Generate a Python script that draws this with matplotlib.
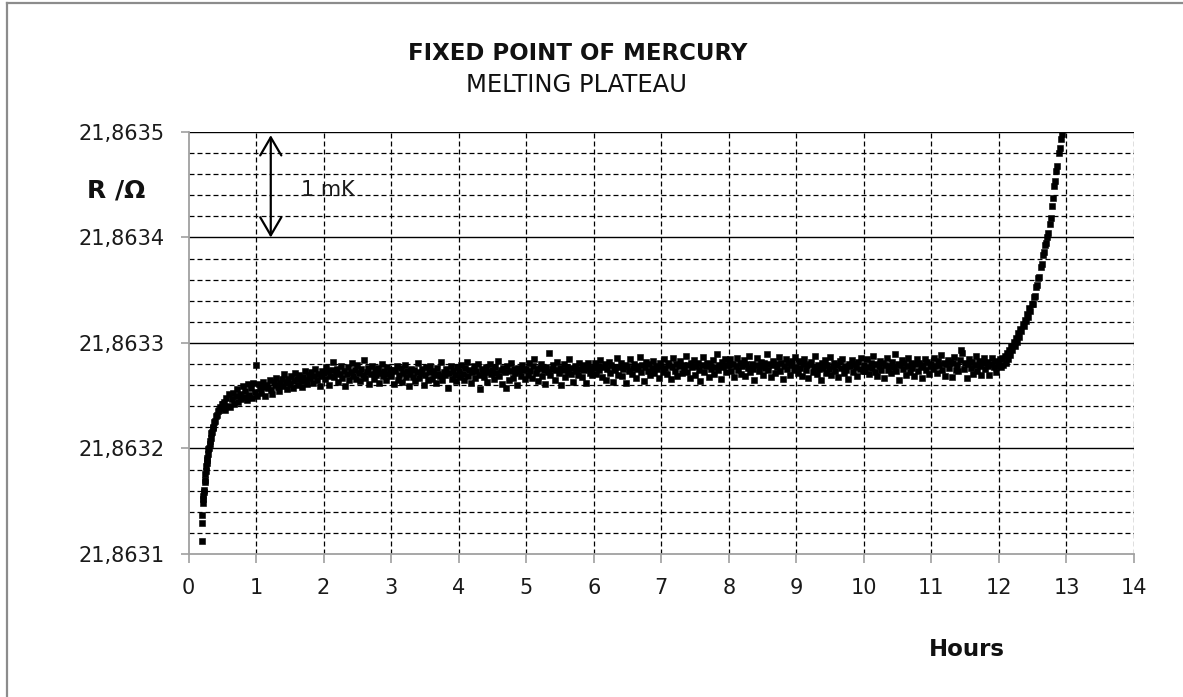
import numpy as np
import matplotlib
matplotlib.use("Agg")
import matplotlib.pyplot as plt
from matplotlib.lines import Line2D

plt.rcParams['font.family'] = ['DejaVu Sans']

# ---------------- data ----------------
# resistance readings stored as offsets above 21.8630 ohm, in units of 0.1 micro-ohm
R_BASE = 21.8630
UNIT = 1e-7

# initial steep rise (hours, readings)
hours_rise = [0.195, 0.200, 0.205, 0.210, 0.215, 0.220, 0.226, 0.232, 0.238, 0.244,
              0.250, 0.256, 0.262, 0.268, 0.274, 0.280, 0.288, 0.296, 0.304, 0.312,
              0.320, 0.330, 0.340, 0.350, 0.360, 0.370, 0.380, 0.392, 0.405, 0.418,
              0.432, 0.446, 0.460, 0.475, 0.490, 0.505]
dR_rise = [1126, 1291, 1370, 1480, 1520, 1548, 1590, 1604, 1680, 1702,
           1760, 1788, 1835, 1858, 1890, 1912, 1948, 1995, 2008, 2046,
           2072, 2098, 2145, 2158, 2196, 2205, 2248, 2262, 2309, 2322,
           2356, 2364, 2395, 2388, 2426, 2418]

# plateau: readings sampled uniformly in each time block
plateau_blocks = [(0.52, 1.0), (1, 2), (2, 3), (3, 4), (4, 5), (5, 6),
                  (6, 7), (7, 8), (8, 9), (9, 10), (10, 11), (11, 12)]
dR_plateau_00 = [2440, 2365, 2480, 2402, 2515, 2390, 2468, 2530, 2421, 2497, 2560, 2445,
                 2519, 2470, 2590, 2488, 2542, 2455, 2611, 2506, 2575, 2480, 2620, 2538]
dR_plateau_01 = [2790, 2498, 2611, 2575, 2530, 2628, 2587, 2493, 2604, 2571,
                 2646, 2559, 2520, 2633, 2598, 2671, 2585, 2548, 2617, 2662,
                 2596, 2704, 2629, 2567, 2655, 2612, 2689, 2573, 2641, 2718,
                 2662, 2604, 2695, 2637, 2581, 2676, 2732, 2649, 2610, 2701,
                 2668, 2727, 2625, 2690, 2752, 2647, 2709, 2595, 2683, 2736]
dR_plateau_02 = [2712, 2655, 2768, 2731, 2604, 2689, 2745, 2821, 2677, 2716,
                 2758, 2630, 2702, 2784, 2669, 2737, 2593, 2706, 2773, 2648,
                 2725, 2812, 2686, 2743, 2662, 2796, 2719, 2637, 2751, 2694,
                 2838, 2671, 2729, 2760, 2615, 2703, 2782, 2658, 2740, 2697,
                 2766, 2624, 2715, 2801, 2683, 2734, 2652, 2774, 2709, 2746]
dR_plateau_03 = [2688, 2741, 2612, 2735, 2779, 2654, 2701, 2762, 2627, 2718,
                 2795, 2673, 2730, 2589, 2706, 2757, 2681, 2744, 2636, 2722,
                 2808, 2667, 2713, 2750, 2601, 2694, 2771, 2645, 2727, 2786,
                 2659, 2739, 2698, 2617, 2761, 2710, 2684, 2823, 2649, 2728,
                 2692, 2754, 2575, 2719, 2780, 2663, 2736, 2701, 2642, 2768]
dR_plateau_04 = [2733, 2676, 2791, 2708, 2652, 2759, 2817, 2690, 2744, 2625,
                 2721, 2786, 2667, 2739, 2805, 2698, 2563, 2752, 2711, 2680,
                 2769, 2634, 2727, 2798, 2702, 2748, 2659, 2776, 2714, 2830,
                 2686, 2741, 2612, 2763, 2725, 2575, 2784, 2648, 2739, 2810,
                 2671, 2756, 2718, 2603, 2767, 2735, 2689, 2795, 2744, 2662]
dR_plateau_05 = [2758, 2701, 2812, 2735, 2667, 2779, 2846, 2720, 2753, 2641,
                 2766, 2803, 2689, 2748, 2614, 2771, 2729, 2905, 2692, 2757,
                 2788, 2653, 2740, 2819, 2712, 2764, 2598, 2745, 2797, 2681,
                 2769, 2728, 2851, 2706, 2759, 2630, 2782, 2737, 2695, 2812,
                 2750, 2673, 2791, 2744, 2623, 2767, 2806, 2716, 2760, 2698]
dR_plateau_06 = [2762, 2815, 2703, 2781, 2740, 2836, 2679, 2768, 2797, 2651,
                 2755, 2823, 2719, 2788, 2634, 2774, 2746, 2858, 2701, 2769,
                 2812, 2686, 2757, 2794, 2620, 2779, 2738, 2845, 2710, 2766,
                 2803, 2664, 2782, 2749, 2871, 2722, 2790, 2641, 2775, 2818,
                 2733, 2797, 2692, 2761, 2829, 2714, 2786, 2755, 2668, 2808]
dR_plateau_07 = [2783, 2721, 2846, 2767, 2702, 2812, 2790, 2655, 2774, 2859,
                 2738, 2801, 2685, 2779, 2833, 2712, 2796, 2752, 2880, 2729,
                 2788, 2664, 2807, 2771, 2842, 2697, 2784, 2815, 2741, 2638,
                 2793, 2865, 2723, 2780, 2810, 2676, 2799, 2754, 2837, 2708,
                 2775, 2896, 2742, 2789, 2660, 2818, 2769, 2851, 2726, 2795]
dR_plateau_08 = [2791, 2847, 2736, 2803, 2674, 2779, 2862, 2748, 2812, 2705,
                 2786, 2838, 2690, 2797, 2766, 2879, 2721, 2805, 2753, 2651,
                 2794, 2856, 2730, 2782, 2821, 2697, 2809, 2761, 2893, 2744,
                 2800, 2682, 2788, 2834, 2715, 2797, 2770, 2866, 2739, 2811,
                 2663, 2783, 2845, 2758, 2806, 2700, 2792, 2829, 2747, 2872]
dR_plateau_09 = [2776, 2713, 2831, 2759, 2689, 2804, 2852, 2740, 2787, 2665,
                 2798, 2822, 2728, 2771, 2880, 2706, 2789, 2750, 2645, 2813,
                 2767, 2841, 2719, 2793, 2756, 2868, 2697, 2782, 2810, 2733,
                 2794, 2677, 2826, 2761, 2849, 2715, 2785, 2742, 2656, 2803,
                 2778, 2835, 2724, 2797, 2768, 2690, 2817, 2752, 2861, 2736]
dR_plateau_10 = [2792, 2736, 2848, 2771, 2704, 2815, 2760, 2877, 2729, 2801,
                 2683, 2786, 2834, 2747, 2810, 2668, 2795, 2856, 2740, 2783,
                 2712, 2824, 2768, 2893, 2731, 2799, 2650, 2787, 2839, 2754,
                 2806, 2695, 2780, 2862, 2726, 2814, 2763, 2684, 2797, 2845,
                 2738, 2809, 2771, 2666, 2790, 2853, 2745, 2818, 2707, 2784]
dR_plateau_11 = [2801, 2752, 2858, 2779, 2716, 2826, 2793, 2887, 2741, 2808,
                 2690, 2797, 2843, 2762, 2819, 2675, 2806, 2869, 2748, 2791,
                 2730, 2835, 2935, 2902, 2753, 2812, 2671, 2799, 2847, 2764,
                 2818, 2709, 2792, 2874, 2737, 2826, 2781, 2700, 2809, 2856,
                 2751, 2820, 2786, 2695, 2804, 2861, 2769, 2832, 2728, 2815]
dR_plateau = [dR_plateau_00, dR_plateau_01, dR_plateau_02, dR_plateau_03,
              dR_plateau_04, dR_plateau_05, dR_plateau_06, dR_plateau_07,
              dR_plateau_08, dR_plateau_09, dR_plateau_10, dR_plateau_11]

# end of melt: readings sampled uniformly between these hours
end_block = (12.0, 12.933)
dR_end = [2780, 2845, 2770, 2862, 2795, 2880, 2815, 2905, 2850, 2935,
          2890, 2972, 2930, 3010, 2975, 3048, 3005, 3092, 3060, 3135,
          3110, 3180, 3160, 3222, 3205, 3275, 3250, 3330, 3302, 3370,
          3368, 3432, 3448, 3528, 3546, 3612, 3630, 3718, 3745, 3833,
          3858, 3930, 3945, 4002, 4040, 4132, 4188, 4296, 4370, 4492,
          4538, 4633, 4676, 4802, 4845, 4930, 4985]

x_ticks = list(range(0, 15))
y_major = [21.8631, 21.8632, 21.8633, 21.8634, 21.8635]
y_labels = ['21,8631', '21,8632', '21,8633', '21,8634', '21,8635']
y_minor_step = 0.00002

# ---------------- assemble ----------------
t_all = list(hours_rise)
r_all = [R_BASE + v * UNIT for v in dR_rise]
for (a, b), vals in zip(plateau_blocks, dR_plateau):
    t_all += list(np.linspace(a, b, len(vals), endpoint=False))
    r_all += [R_BASE + v * UNIT for v in vals]
t_all += list(np.linspace(end_block[0], end_block[1], len(dR_end)))
r_all += [R_BASE + v * UNIT for v in dR_end]

# ---------------- figure ----------------
W, H = 1183, 697
fig = plt.figure(figsize=(W / 100, H / 100), dpi=100)
fig.patch.set_facecolor('white')

def fx(px):
    return px / W

def fy(py):
    return 1 - py / H

ax = fig.add_axes([fx(188.5), fy(554), fx(1134) - fx(188.5), fy(132) - fy(554)])
ax.set_xlim(0, 14)
ax.set_ylim(y_major[0], y_major[-1])

grid_kw = dict(color='black', lw=0.9, zorder=1)
dash = (0, (4.0, 2.4))
# horizontal grid
n_minor = int(round((y_major[-1] - y_major[0]) / y_minor_step))
for i in range(n_minor + 1):
    yv = y_major[0] + i * y_minor_step
    if i % 5 == 0:
        if i == 0:
            continue
        ax.axhline(yv, color='black', lw=1.0, zorder=1)
    else:
        ax.axhline(yv, linestyle=dash, **grid_kw)
# vertical grid
for xv in x_ticks[1:]:
    ax.axvline(xv, linestyle=dash, **grid_kw)

ax.plot(t_all, r_all, linestyle='none', marker='s', ms=4.0, mew=0.4, mec='black',
        color='black', zorder=3, clip_on=True)

for s in ['top', 'right']:
    ax.spines[s].set_visible(False)
for s in ['left', 'bottom']:
    ax.spines[s].set_color('#a0a0a0')
    ax.spines[s].set_linewidth(1.3)
    ax.spines[s].set_zorder(2)

ax.set_xticks(x_ticks)
ax.set_xticklabels([str(v) for v in x_ticks])
ax.set_yticks(y_major)
ax.set_yticklabels(y_labels)
ax.tick_params(axis='x', direction='out', length=6.5, width=1.2, color='#a0a0a0',
               labelsize=15, pad=11, labelcolor='#1a1a1a')
ax.tick_params(axis='y', direction='out', length=6, width=1.2, color='#a0a0a0',
               labelsize=15, pad=11, labelcolor='#1a1a1a')

# arrow 1 mK
ax.annotate('', xy=(1.218, 21.86340), xytext=(1.218, 21.863497),
            arrowprops=dict(arrowstyle='<->, head_length=0.65, head_width=0.38',
                            color='black', lw=1.6, mutation_scale=20,
                            shrinkA=0, shrinkB=0), zorder=4)
ax.text(2.07, 21.863445, '1 mK', fontsize=15, ha='center', va='center',
        color='#1a1a1a', zorder=4)

# titles / labels
fig.text(fx(578), fy(54), 'FIXED POINT OF MERCURY', fontsize=16.5, fontweight='bold',
         ha='center', va='center', color='#111111')
fig.text(fx(577), fy(85), 'MELTING PLATEAU', fontsize=17.5,
         ha='center', va='center', color='#111111')
fig.text(fx(116.5), fy(191), 'R /Ω', fontsize=18, fontweight='bold',
         ha='center', va='center', color='#111111')
fig.text(fx(967), fy(649), 'Hours', fontsize=16.5, fontweight='bold',
         ha='center', va='center', color='#111111')

# outer chart border (left and top edges visible)
fig.add_artist(Line2D([fx(7), fx(7)], [0, fy(3)], transform=fig.transFigure,
                      color='#8c8c8c', lw=1.6))
fig.add_artist(Line2D([fx(7), 1], [fy(3), fy(3)], transform=fig.transFigure,
                      color='#8c8c8c', lw=1.6))

fig.savefig('out.png', dpi=100, facecolor='white')
